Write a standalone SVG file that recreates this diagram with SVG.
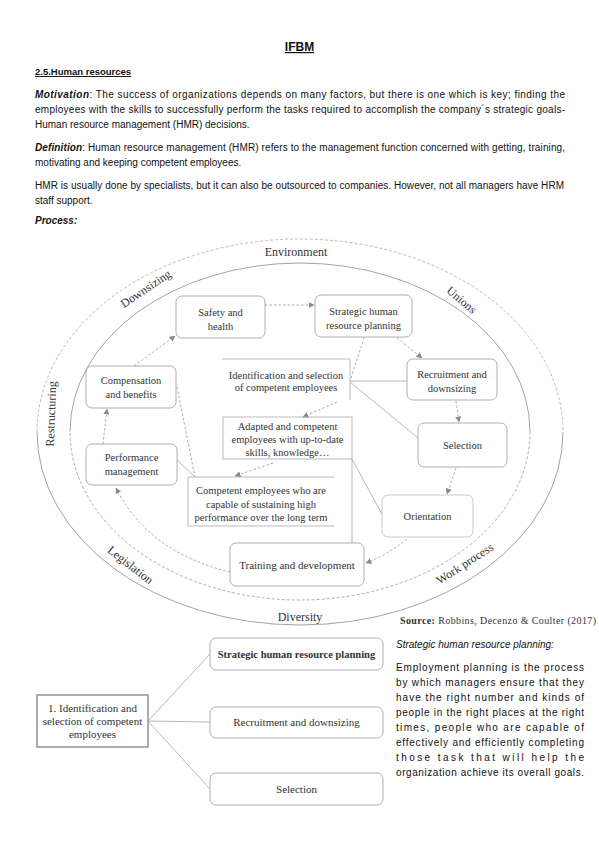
<svg xmlns="http://www.w3.org/2000/svg" width="599" height="848" viewBox="0 0 599 848">
<defs>
<marker id="ah" viewBox="0 0 10 10" refX="9" refY="5" markerWidth="6" markerHeight="6" orient="auto" markerUnits="userSpaceOnUse"><path d="M0,0 L10,5 L0,10 z" fill="#888"/></marker>
<style>
.body{font-family:"Liberation Sans",Arial,sans-serif;font-size:10px;fill:#111}
.bi{font-weight:bold;font-style:italic}
.dg{font-family:"Liberation Serif","Times New Roman",serif;font-size:10.5px;fill:#333;text-anchor:middle}
.ring{font-family:"Liberation Serif","Times New Roman",serif;font-size:12px;fill:#333;text-anchor:middle}
.node{fill:#fff;stroke:#999;stroke-width:0.8}
.box{fill:none;stroke:#aaa;stroke-width:0.8}
.dash{fill:none;stroke:#888;stroke-width:0.7;stroke-dasharray:2.5,2}
.solid{fill:none;stroke:#999;stroke-width:0.7}
.arr{marker-end:url(#ah)}
</style>
</defs>
<rect width="599" height="848" fill="#fff"/>

<!-- Header text -->
<g id="header">
<text x="299.5" y="51" text-anchor="middle" style="font-family:'Liberation Sans',Arial,sans-serif;font-size:12px;font-weight:bold;text-decoration:underline;fill:#111">IFBM</text>
<text x="35" y="75" style="font-family:'Liberation Sans',Arial,sans-serif;font-size:9.5px;font-weight:bold;text-decoration:underline;fill:#111">2.5.Human resources</text>
<text class="body" x="35" y="97.5" textLength="530" lengthAdjust="spacing"><tspan class="bi">Motivation</tspan>: The success of organizations depends on many factors, but there is one which is key; finding the</text>
<text class="body" x="35" y="112.5" textLength="530" lengthAdjust="spacing">employees with the skills to successfully perform the tasks required to accomplish the company´s strategic goals-</text>
<text class="body" x="35" y="127.5">Human resource management (HMR) decisions.</text>
<text class="body" x="35" y="150.5" textLength="530" lengthAdjust="spacing"><tspan class="bi">Definition</tspan>: Human resource management (HMR) refers to the management function concerned with getting, training,</text>
<text class="body" x="35" y="165.5">motivating and keeping competent employees.</text>
<text class="body" x="35" y="188.5" textLength="529" lengthAdjust="spacing">HMR is usually done by specialists, but it can also be outsourced to companies. However, not all managers have HRM</text>
<text class="body" x="35" y="203.5">staff support.</text>
<text class="body bi" x="35" y="224">Process:</text>
</g>

<!-- Rings -->
<g id="rings">
<path d="M37,432 A263,193 0 0 1 563,432" fill="none" stroke="#aaa" stroke-width="0.8" stroke-dasharray="3,2"/>
<path d="M563,432 A263,193 0 0 1 37,432" fill="none" stroke="#999" stroke-width="0.9"/>
<path d="M70,431.5 A230,168.5 0 0 1 530,431.5" fill="none" stroke="#999" stroke-width="0.9"/>
<path d="M530,431.5 A230,168.5 0 0 1 70,431.5" fill="none" stroke="#999" stroke-width="0.8" stroke-dasharray="3,2"/>
<text class="ring" x="296" y="256">Environment</text>
<text class="ring" x="0" y="0" transform="translate(148,292) rotate(-34)">Downsizing</text>
<text class="ring" x="0" y="0" transform="translate(459,303) rotate(40)">Unions</text>
<text class="ring" x="0" y="0" transform="translate(55,414) rotate(-88)">Restructuring</text>
<text class="ring" x="0" y="0" transform="translate(128,568) rotate(38)">Legislation</text>
<text class="ring" x="0" y="0" transform="translate(467,567) rotate(-33)">Work process</text>
<text class="ring" x="300" y="621">Diversity</text>
</g>

<!-- Connectors -->
<g id="connectors">
<path class="dash arr" d="M265,305 L314,305"/>
<path class="dash arr" d="M397,338 L422,358"/>
<path class="dash arr" d="M456,401 L459,422"/>
<path class="dash arr" d="M456,468 L447,494"/>
<path class="dash arr" d="M407,539 Q387,555 366,563"/>
<path class="dash arr" d="M230,572 Q148,552 116,488"/>
<path class="dash arr" d="M103,444 L107,409"/>
<path class="dash arr" d="M134,366 L175,336"/>
<path class="dash" d="M351,378 L364,338"/>
<path class="solid" d="M350,381 L407,381"/>
<path class="solid" d="M350,382 L418,438"/>
<path class="dash arr" d="M337,402 L303,417"/>
<path class="dash arr" d="M273,463 L235,476"/>
<path class="solid" d="M352,459 L383,516"/>
<path class="solid" d="M352,459 L352,543"/>
<path class="dash" d="M177,387 L195,477"/>
<path class="solid" d="M177,460 L195,477"/>
<path class="solid" d="M148,721 L210,654"/>
<path class="solid" d="M148,721 L210,722"/>
<path class="solid" d="M148,721 L210,789"/>
</g>

<!-- Process nodes -->
<g id="safety">
<rect class="node" x="176" y="296" width="89" height="42" rx="6"/>
<text class="dg" x="220.5" y="315.5">Safety and</text>
<text class="dg" x="220.5" y="329.5">health</text>
</g>
<g id="strategic">
<rect class="node" x="315" y="295" width="97" height="42" rx="6"/>
<text class="dg" x="363.5" y="314.5">Strategic human</text>
<text class="dg" x="363.5" y="328.5">resource planning</text>
</g>
<g id="recruitment">
<rect class="node" x="407" y="359" width="90" height="41" rx="6"/>
<text class="dg" x="452" y="378">Recruitment and</text>
<text class="dg" x="452" y="392">downsizing</text>
</g>
<g id="selection">
<rect class="node" x="418" y="423" width="89" height="44" rx="6"/>
<text class="dg" x="462.5" y="449">Selection</text>
</g>
<g id="orientation">
<rect class="node" x="382" y="495" width="91" height="42" rx="6" style="stroke:#bbb"/>
<text class="dg" x="427.5" y="520">Orientation</text>
</g>
<g id="training">
<rect class="node" x="230" y="543" width="134" height="43" rx="6"/>
<text class="dg" x="297" y="568.5" style="font-size:11px">Training and development</text>
</g>
<g id="performance">
<rect class="node" x="86" y="444" width="91" height="41" rx="6"/>
<text class="dg" x="131.5" y="461">Performance</text>
<text class="dg" x="131.5" y="475">management</text>
</g>
<g id="compensation">
<rect class="node" x="86" y="366" width="90" height="42" rx="6"/>
<text class="dg" x="131" y="384">Compensation</text>
<text class="dg" x="131" y="398">and benefits</text>
</g>
<g id="identification">
<rect x="222" y="359" width="128" height="41" fill="#fff"/>
<path class="box" d="M222,359 L350,359 L350,400"/>
<text class="dg" x="286" y="379">Identification and selection</text>
<text class="dg" x="286" y="391">of competent employees</text>
</g>
<g id="adapted">
<rect class="box" x="223" y="417" width="129" height="42" fill="#fff"/>
<text class="dg" x="287.5" y="429.5">Adapted and competent</text>
<text class="dg" x="287.5" y="442.5">employees with up-to-date</text>
<text class="dg" x="287.5" y="455.5">skills, knowledge…</text>
</g>
<g id="competent">
<rect x="188" y="477" width="146" height="49" fill="#fff"/>
<path class="box" d="M334,477 L188,477 L188,526 L334,526"/>
<text class="dg" x="261" y="494">Competent employees who are</text>
<text class="dg" x="261" y="507.5">capable of sustaining high</text>
<text class="dg" x="261" y="521">performance over the long term</text>
</g>

<text x="400" y="624" style="font-family:'Liberation Serif','Times New Roman',serif;font-size:10px;fill:#333" textLength="196" lengthAdjust="spacing"><tspan font-weight="bold">Source:</tspan> Robbins, Decenzo &amp; Coulter (2017)</text>

<!-- Second diagram -->
<g id="ident2">
<rect x="37" y="695" width="111" height="52" fill="#fff" stroke="#999" stroke-width="1.6"/>
<text class="dg" x="92.5" y="711.5" style="font-size:11px">1. Identification and</text>
<text class="dg" x="92.5" y="724.5" style="font-size:11px">selection of competent</text>
<text class="dg" x="92.5" y="737.5" style="font-size:11px">employees</text>
</g>
<g id="shrp2">
<rect class="node" x="210" y="638" width="173" height="32" rx="6"/>
<text class="dg" x="296.5" y="657.5" font-weight="bold">Strategic human resource planning</text>
</g>
<g id="recruit2">
<rect class="node" x="210" y="707" width="173" height="31" rx="6"/>
<text class="dg" x="296.5" y="726" style="font-size:11px">Recruitment and downsizing</text>
</g>
<g id="select2">
<rect class="node" x="210" y="773" width="173" height="32" rx="6"/>
<text class="dg" x="296.5" y="792.5" style="font-size:11px">Selection</text>
</g>

<!-- Side text -->
<g id="sidetext">
<text class="body" x="396" y="648" font-style="italic">Strategic human resource planning:</text>
<text class="body" x="396" y="671" textLength="188" lengthAdjust="spacing">Employment planning is the process</text>
<text class="body" x="396" y="686" textLength="188" lengthAdjust="spacing">by which managers ensure that they</text>
<text class="body" x="396" y="701" textLength="188" lengthAdjust="spacing">have the right number and kinds of</text>
<text class="body" x="396" y="716" textLength="188" lengthAdjust="spacing">people in the right places at the right</text>
<text class="body" x="396" y="731" textLength="188" lengthAdjust="spacing">times, people who are capable of</text>
<text class="body" x="396" y="746" textLength="188" lengthAdjust="spacing">effectively and efficiently completing</text>
<text class="body" x="396" y="761" textLength="188" lengthAdjust="spacing">those task that will help the</text>
<text class="body" x="396" y="776" textLength="188" lengthAdjust="spacing">organization achieve its overall goals.</text>
</g>
</svg>
